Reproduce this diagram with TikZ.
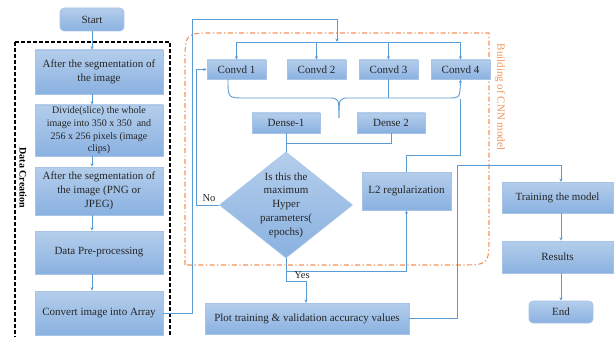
\documentclass[tikz,border=0pt]{standalone}
\usepackage{fontspec}
\setmainfont{Liberation Serif}
\usetikzlibrary{shapes.geometric,arrows.meta}
\definecolor{lineblue}{HTML}{5B9BD5}
\definecolor{boxtop}{HTML}{B4CEEB}
\definecolor{boxbot}{HTML}{8AB1E1}
\definecolor{boxedge}{HTML}{A7C4E6}
\definecolor{orng}{HTML}{F2955A}
\definecolor{txt}{HTML}{262626}
\begin{document}
\begin{tikzpicture}[x=1pt,y=-1pt,
  box/.style={rectangle,draw=boxedge,line width=0.6pt,top color=boxtop,bottom color=boxbot,
    inner sep=1pt,align=center,text=txt,font=\fontsize{11}{14}\selectfont},
  rbox/.style={box,rounded corners=4pt},
  small/.style={font=\fontsize{10}{12.7}\selectfont},
  conn/.style={draw=lineblue,line width=0.9pt},
  arr/.style={conn,-{Stealth[length=3.5pt,width=3pt]}},
  lbl/.style={text=txt,font=\fontsize{10.5}{12}\selectfont,inner sep=0pt}]
\useasboundingbox (0,0) rectangle (614,337);
\fill[white] (0,0) rectangle (614,337);

% orange region
\draw[orng,line width=1.1pt,dash pattern=on 5pt off 2.5pt on 1.2pt off 2.5pt]
  (185,265) -- (185,63) .. controls (185,33) .. (215,33) -- (489,33) -- (489,235)
  .. controls (489,265) .. (459,265) -- cycle;
\node[text=orng,rotate=-90,font=\fontsize{11}{12}\selectfont,inner sep=0pt] (bcnn) at (500,97) {Building of CNN model};

% data creation frame
\draw[black,line width=1.2pt,dash pattern=on 4pt off 2pt] (15,42) rectangle (170,345);
\node[rotate=-90,font=\bfseries\fontsize{10}{12}\selectfont,inner sep=0pt] (dc) at (23,178) {Data Creation};

% left column
\node[rbox,minimum width=64pt,minimum height=23pt] (start) at (92,19.5) {Start};
\node[box,minimum width=128pt,minimum height=44pt] (b1) at (99,72) {After the segmentation of\\the image};
\node[box,small,minimum width=128pt,minimum height=51pt] (b2) at (99,130.5) {Divide(slice) the whole\\image into 350 x 350\ \ and\\256 x 256 pixels (image\\clips)};
\node[box,minimum width=128pt,minimum height=48pt] (b3) at (99,191) {After the segmentation of\\the image (PNG or\\JPEG)};
\node[box,minimum width=128pt,minimum height=43pt] (b4) at (99,252.5) {Data Pre-processing};
\node[box,minimum width=128pt,minimum height=44pt] (b5) at (99,313) {Convert image into Array};

\draw[arr] (start.south) -- (start.south |- b1.north);
\draw[arr] (b1.south -| start.south) -- (start.south |- b2.north);
\draw[arr] (b2.south -| start.south) -- (start.south |- b3.north);
\draw[arr] (b3.south -| start.south) -- (start.south |- b4.north);
\draw[arr] (b4.south -| start.south) -- (start.south |- b5.north);

% conv row
\node[box,minimum width=59pt,minimum height=19pt] (c1) at (236.5,69.5) {Convd 1};
\node[box,minimum width=59pt,minimum height=19pt] (c2) at (316.5,69.5) {Convd 2};
\node[box,minimum width=59pt,minimum height=19pt] (c3) at (388.5,69.5) {Convd 3};
\node[box,minimum width=59pt,minimum height=19pt] (c4) at (460.5,69.5) {Convd 4};

\coordinate (bus) at (337,42);
\draw[conn] (b5.east) -- (192,313) -- (192,19) -- (337,19);
\draw[arr] (337,19) -- (bus);
\draw[conn] (c1.north |- bus) -- (c4.north |- bus);
\draw[arr] (c1.north |- bus) -- (c1.north);
\draw[arr] (c2.north |- bus) -- (c2.north);
\draw[arr] (c3.north |- bus) -- (c3.north);
\draw[arr] (c4.north |- bus) -- (c4.north);

% dense
\node[box,minimum width=68pt,minimum height=20pt] (de1) at (286,123) {Dense-1};
\node[box,minimum width=68pt,minimum height=20pt] (de2) at (391,123) {Dense 2};

% brace
\coordinate (brc) at (339,118);
\draw[conn] (228,79) .. controls (228,98) .. (245,98) -- (328,98) .. controls (339,98) .. (brc);
\draw[conn] (brc) .. controls (339,98) .. (350,98) -- (447,98);
\draw[conn] (c3.south) -- (388.5,98);
\draw[arr] (447,98) .. controls (460,98) .. (c4.south);

% diamond
\node[diamond,draw=boxedge,line width=0.6pt,top color=boxtop,bottom color=boxbot,
  minimum width=133pt,minimum height=106pt,inner sep=0pt] (d) at (286,205) {};
\node[lbl,align=center,font=\fontsize{11}{13.8}\selectfont] (dt) at (d.center) {Is this the\\maximum\\Hyper\\parameters(\\epochs)};

\coordinate (jn) at (286,143);
\draw[conn] (de1.south) -- (jn) -| (de2.south);
\draw[conn] (jn) -- (d.north);

% L2
\node[box,minimum width=89pt,minimum height=38pt] (l2) at (406.5,191) {L2 regularization};
\draw[conn] (l2.north) -- (406.5,155) -- (460.5,155) -- (460.5,99);

% No loop
\draw[conn] (d.west) -- (196,205) -- (196,69.5);
\draw[arr] (196,69.5) -- (c1.west);
\node[lbl] (no) at (209,198) {No};

% plot
\node[box,minimum width=204pt,minimum height=31pt] (plot) at (307,318.5) {Plot training \& validation accuracy values};
\coordinate (yb) at (286,271);
\draw[conn] (d.south) -- (286,281) -- (306,281);
\draw[arr] (306,281) -- (306,303);
\draw[conn] (yb) -- (406.5,271);
\draw[arr] (406.5,271) -- (l2.south);
\node[lbl] (yes) at (302,275) {Yes};

% right column
\node[box,minimum width=111pt,minimum height=31pt] (tr) at (557.5,197.5) {Training the model};
\node[box,minimum width=111pt,minimum height=32pt] (res) at (557.5,257) {Results};
\node[rbox,minimum width=64pt,minimum height=22pt] (end) at (561,312) {End};

\draw[conn] (plot.east) -- (457,318.5) -- (457,165) -- (561,165);
\draw[arr] (561,165) -- (561,182);
\draw[arr] (tr.south -| end.north) -- (res.north -| end.north);
\draw[arr] (res.south -| end.north) -- (end.north);
\end{tikzpicture}
\end{document}
